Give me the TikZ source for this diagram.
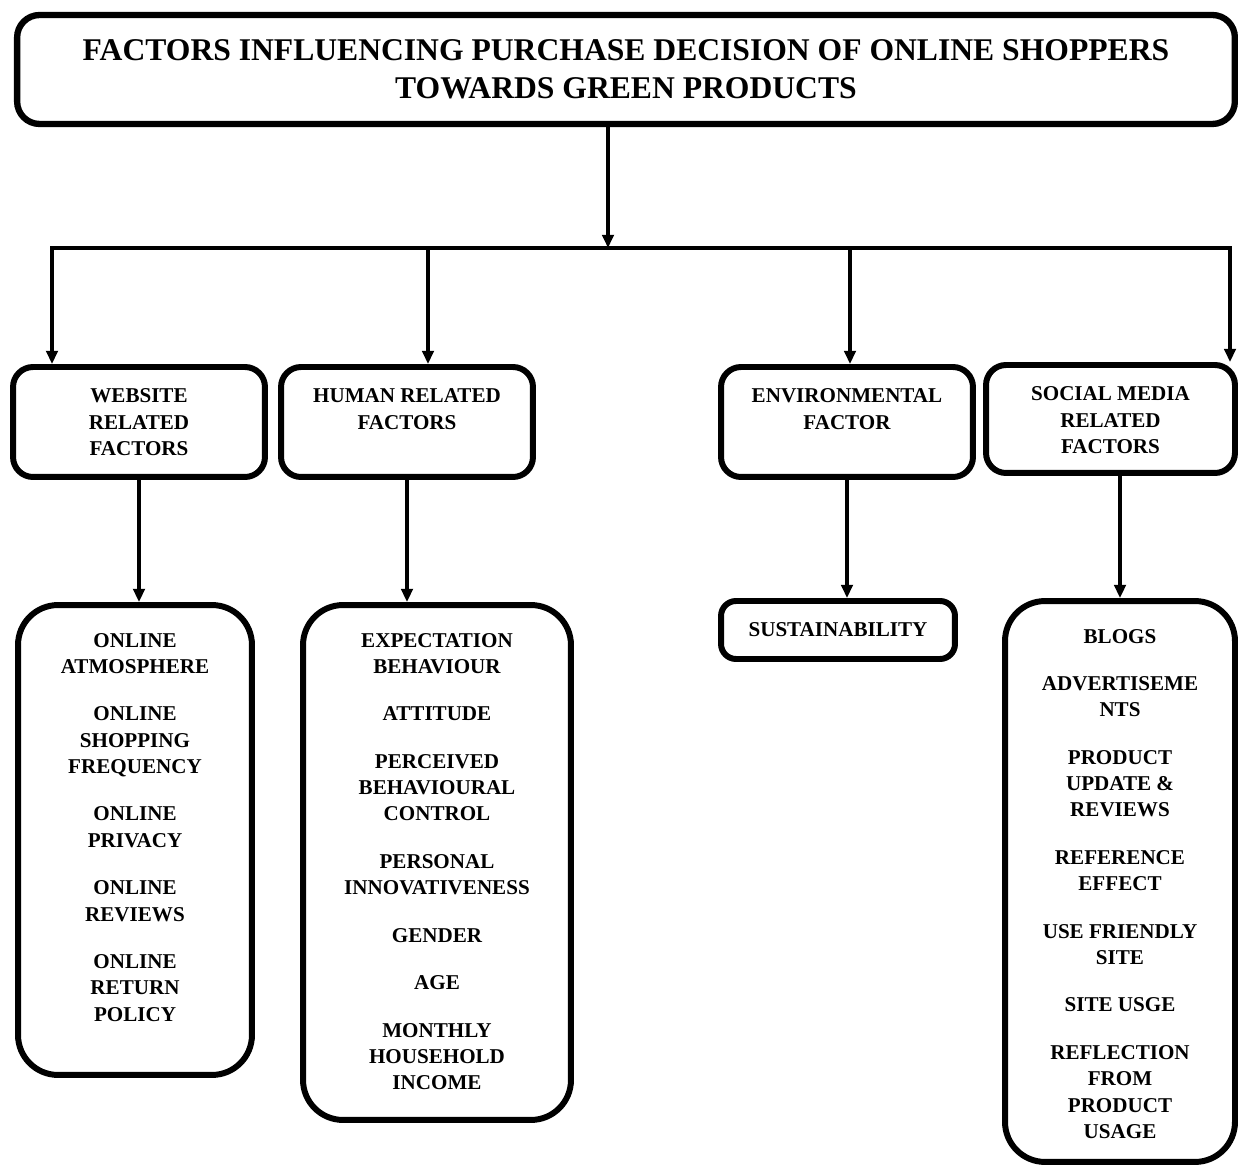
\documentclass[tikz,border=0pt]{standalone}
\usepackage{fontspec}
\setmainfont{Liberation Serif}
\usetikzlibrary{arrows.meta}

\tikzset{
  headbox/.style={draw, line width=3.6pt, rounded corners=0.45cm, align=center, inner sep=0pt, font=\fontsize{18}{21.5}\selectfont\bfseries},
  factorbox/.style={draw, line width=3.4pt, rounded corners=0.4cm, inner xsep=0.2cm, inner ysep=0.44cm, font=\fontsize{12}{15}\selectfont\bfseries},
  itembox/.style={draw, line width=3.4pt, rounded corners=0.8cm, inner xsep=0.2cm, inner ysep=0.56cm, font=\fontsize{12}{15}\selectfont\bfseries},
  link/.style={line width=2pt, line cap=rect},
  arrow/.style={line width=2pt, -{Triangle[length=7.5pt,width=6.5pt]}},
}
\newcommand{\boxtext}[3]{\parbox[c][#2][t]{#1}{\centering #3}}

\begin{document}
\begin{tikzpicture}[x=0.02cm,y=-0.02cm]

    \useasboundingbox (0,0) rectangle (1238,1168);

    % Title
    \node[headbox, minimum width=24.36cm, minimum height=2.18cm] at (626,69.5) (title) {FACTORS INFLUENCING PURCHASE DECISION OF ONLINE SHOPPERS\\TOWARDS GREEN PRODUCTS};

    % Factor groups
    \node[factorbox] at (139,422) (web) {\boxtext{4.64cm}{1.32cm}{WEBSITE\\RELATED\\FACTORS}};
    \node[factorbox] at (407,422) (hum) {\boxtext{4.64cm}{1.32cm}{HUMAN RELATED\\FACTORS}};
    \node[factorbox] at (847,422) (env) {\boxtext{4.64cm}{1.32cm}{ENVIRONMENTAL\\FACTOR}};
    \node[factorbox] at (1110.5,419) (soc) {\boxtext{4.58cm}{1.28cm}{SOCIAL MEDIA\\RELATED\\FACTORS}};

    % Factor items
    \node[itembox] at (135,840) (weblist) {\boxtext{4.28cm}{8.28cm}{ONLINE\\ATMOSPHERE\\[12pt]ONLINE\\SHOPPING\\FREQUENCY\\[12pt]ONLINE\\PRIVACY\\[12pt]ONLINE\\REVIEWS\\[12pt]ONLINE\\RETURN\\POLICY}};
    \node[itembox] at (437,862.5) (humlist) {\boxtext{4.96cm}{9.18cm}{EXPECTATION\\BEHAVIOUR\\[12pt]ATTITUDE\\[12pt]PERCEIVED\\BEHAVIOURAL\\CONTROL\\[12pt]PERSONAL\\INNOVATIVENESS\\[12pt]GENDER\\[12pt]AGE\\[12pt]MONTHLY\\HOUSEHOLD\\INCOME}};
    \node[factorbox, inner sep=0pt, rounded corners=0.3cm, minimum width=4.68cm, minimum height=1.16cm] at (838,630) (sust) {SUSTAINABILITY};
    \node[itembox] at (1120,881.5) (soclist) {\boxtext{4.2cm}{10.1cm}{BLOGS\\[12pt]ADVERTISEME\\NTS\\[12pt]PRODUCT\\UPDATE \&\\REVIEWS\\[12pt]REFERENCE\\EFFECT\\[12pt]USE FRIENDLY\\SITE\\[12pt]SITE USGE\\[12pt]REFLECTION\\FROM\\PRODUCT\\USAGE}};

    % Bus
    \coordinate (jTop) at (608,248);
    \coordinate (jWeb) at (52,248);
    \coordinate (jHum) at (428,248);
    \coordinate (jEnv) at (850,248);
    \coordinate (jSoc) at (1230,248);

    \draw[arrow] (title.south -| jTop) -- (jTop);
    \draw[link] (jWeb) -- (jSoc);
    \draw[arrow] (jWeb) -- (jWeb |- web.north);
    \draw[arrow] (jHum) -- (jHum |- hum.north);
    \draw[arrow] (jEnv) -- (jEnv |- env.north);
    \draw[arrow] (jSoc) -- (jSoc |- soc.north);

    % Groups to items
    \draw[arrow] (web.south) -- (web.south |- weblist.north);
    \draw[arrow] (hum.south) -- (hum.south |- humlist.north);
    \draw[arrow] (env.south) -- (env.south |- sust.north);
    \draw[arrow] (soclist.north |- soc.south) -- (soclist.north);

\end{tikzpicture}
\end{document}
